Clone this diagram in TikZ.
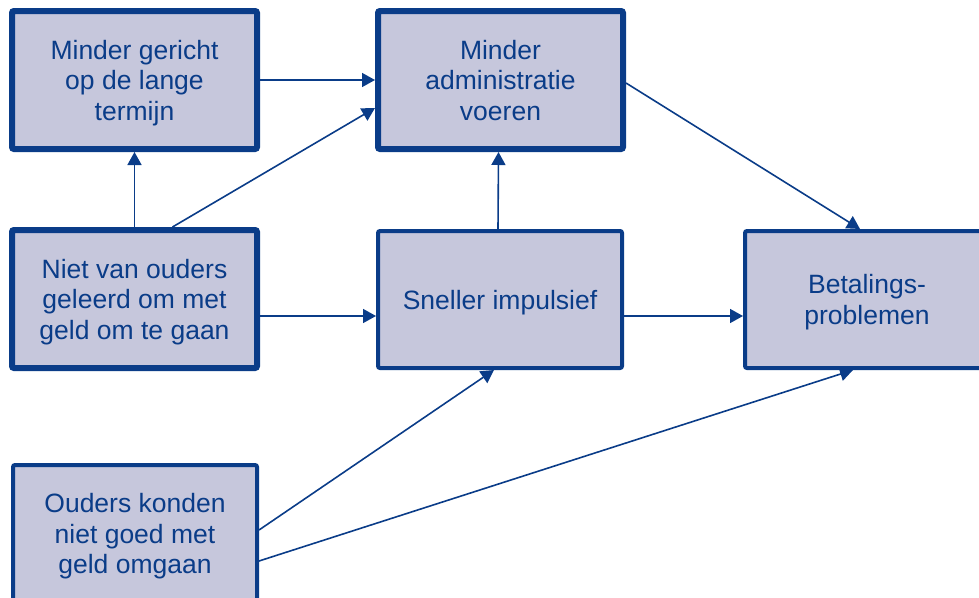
\documentclass[tikz,border=0pt]{standalone}
\usepackage{fontspec}
\setmainfont{Liberation Sans}
\usetikzlibrary{arrows.meta}
\definecolor{dblue}{HTML}{0A3C88}
\definecolor{boxfill}{HTML}{C6C7DC}
\tikzset{
  thickbox/.style={draw=dblue, fill=boxfill, line width=6pt, rounded corners=2pt,
    minimum width=245pt, minimum height=138pt, inner sep=0pt,
    text=dblue, align=center, font=\fontsize{26.5}{30.5}\selectfont, text depth=0pt},
  thinbox/.style={thickbox, line width=4pt, minimum width=244pt, minimum height=137pt},
  conn/.style={draw=dblue, line width=1.6pt, -{Triangle[length=13pt,width=14pt]}}
}
\begin{document}
\begin{tikzpicture}[x=1pt,y=-1pt]
\useasboundingbox (0,0) rectangle (979,597);
\clip (0,0) rectangle (979,597);
\node[thickbox] (b1) at (134.5,80) {Minder gericht\\op de lange\\termijn};
\node[thickbox] (b2) at (500.5,80) {Minder\\administratie\\voeren};
\node[thickbox] (b3) at (134.5,299) {Niet van ouders\\geleerd om met\\geld om te gaan};
\node[thinbox] (b4) at (500,299.5) {Sneller impulsief};
\node[thinbox] (b5) at (867,299.5) {Betalings-\\problemen};
\node[thinbox] (b6) at (135,533.5) {Ouders konden\\niet goed met\\geld omgaan};

\draw[conn] (b1.east) -- (b2.west);
\draw[conn] (b3.north) -- (b1.south);
\draw[conn] ([xshift=38pt]b3.north) -- ([yshift=-28pt]b2.west);
\draw[conn] ([xshift=-2pt]b4.north) -- ([xshift=-2pt]b2.south);
\draw[conn] ([yshift=-3pt]b2.east) -- ([xshift=-7pt]b5.north);
\draw[conn] ([yshift=-17pt]b3.east) -- ([yshift=-16.5pt]b4.west);
\draw[conn] ([yshift=-16.5pt]b4.east) -- ([yshift=-16.5pt]b5.west);
\draw[conn] ([yshift=3.5pt]b6.east) -- ([xshift=-6pt]b4.south);
\draw[conn] ([yshift=-27.5pt]b6.east) -- ([xshift=-14pt]b5.south);
\end{tikzpicture}
\end{document}
